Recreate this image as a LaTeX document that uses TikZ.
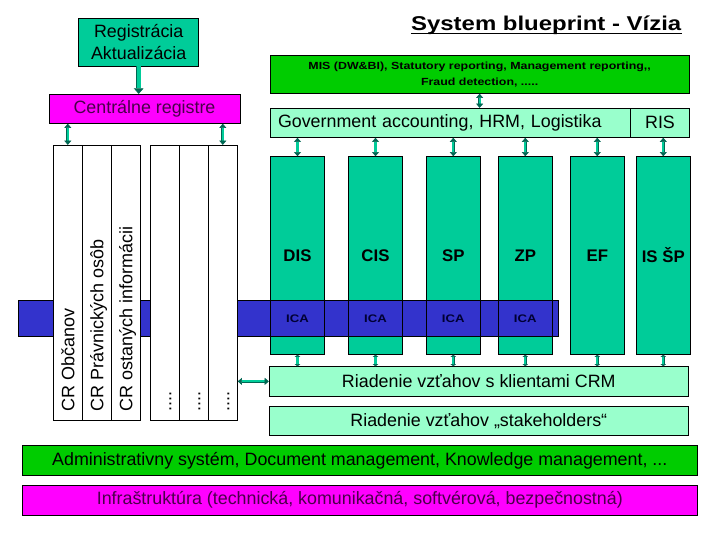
\documentclass[tikz,border=0pt]{standalone}
\usepackage{fontspec}
\setmainfont{Liberation Sans}
\newfontfamily\widefont[FakeStretch=1.2]{Liberation Sans}
\usetikzlibrary{arrows.meta, positioning}

\definecolor{tealfill}{HTML}{00CC99}
\definecolor{mintfill}{HTML}{99FFCC}
\definecolor{limefill}{HTML}{00CC00}
\definecolor{magfill}{HTML}{FF00FF}
\definecolor{bandblue}{HTML}{3333CC}
\definecolor{linkdark}{HTML}{006652}
\definecolor{purpletext}{HTML}{4A004A}
\definecolor{icatext}{HTML}{000033}

\tikzset{
	box/.style={shape=rectangle, draw=black, line width=0.6pt, inner sep=0pt, align=center,
		font=\fontsize{12.7}{15.4}\selectfont},
	tealbox/.style={box, fill=tealfill},
	mintbox/.style={box, fill=mintfill},
	limebox/.style={box, fill=limefill},
	magbox/.style={box, fill=magfill, text=purpletext},
	colbox/.style={tealbox, minimum width=1.35cm, minimum height=4.94cm, font=\fontsize{11.95}{14}\selectfont\bfseries},
	icabox/.style={box, fill=bandblue, text=icatext, minimum width=1.35cm, minimum height=0.895cm,
		font=\fontsize{7.8}{9}\selectfont\widefont\bfseries},
	crbox/.style={box, fill=white, minimum width=0.725cm, minimum height=6.8675cm},
	crtext/.style={rotate=90, anchor=west, inner sep=0pt, text height=9.2pt, text depth=0pt,
		font=\fontsize{12.8}{15}\selectfont},
	link/.style={draw=linkdark, line width=0.4pt, double=tealfill, double distance=1.6pt,
		{Triangle[length=3pt, width=5pt]}-{Triangle[length=3pt, width=5pt]}},
	biglink/.style={link, double distance=2.6pt, -{Triangle[length=4pt, width=7pt]}},
	shortlink/.style={link, {Triangle[length=1.6pt, width=4pt]}-{Triangle[length=1.6pt, width=4pt]}}
}

\begin{document}
\begin{tikzpicture}
	\useasboundingbox (0, 0) rectangle (18, 13.5);
	% Title:
	\node[inner sep=0pt, anchor=base, font=\fontsize{14.2}{16}\selectfont\widefont\bfseries] (title) at (13.655, 12.7325){System blueprint - Vízia};
	\draw[line width=1pt] ([yshift=-0.065cm]title.base west) -- ([yshift=-0.065cm]title.base east);

	% Registers:
	\node[tealbox, minimum width=3cm, minimum height=1.1925cm] (reg) at (3.4675, 12.445){Registrácia\\Aktualizácia};
	\node[magbox, minimum width=4.775cm, minimum height=0.725cm] (central) at (3.6125, 10.78){Centrálne registre};

	% Upper layers:
	\node[limebox, minimum width=10.4825cm, minimum height=0.95cm, font=\fontsize{7.35}{11.4}\selectfont\widefont\bfseries] (mis) at (11.99125, 11.6425){MIS (DW\&BI), Statutory reporting, Management reporting,,\\Fraud detection, .....};
	\node[mintbox, minimum width=9.0175cm, minimum height=0.725cm, text width=8.6175cm, align=left] (gov) at (11.25875, 10.43){Government accounting, HRM, Logistika};
	\node[mintbox, minimum width=1.465cm, minimum height=0.725cm] (ris) at (16.5, 10.43){RIS};

	% Agendas:
	\node[colbox] (dis) at (7.4375, 7.1125){DIS};
	\node[colbox] (cis) at (9.3875, 7.1125){CIS};
	\node[colbox] (sp) at (11.3325, 7.1125){SP};
	\node[colbox] (zp) at (13.1325, 7.1125){ZP};
	\node[colbox] (ef) at (14.9325, 7.1125){EF};
	\node[colbox] (issp) at (16.5825, 7.1125){IS ŠP};

	% ICA band:
	\node[box, fill=bandblue, minimum width=13.51cm, minimum height=0.895cm] (band) at (7.2125, 5.535){};
	\node[icabox] (icaA) at (7.4375, 5.535){ICA};
	\node[icabox] (icaB) at (9.3875, 5.535){ICA};
	\node[icabox] (icaC) at (11.3325, 5.535){ICA};
	\node[icabox] (icaD) at (13.1325, 5.535){ICA};

	% Register columns:
	\node[crbox] (crA) at (1.695, 6.434){};
	\node[crbox] (crB) at (2.42, 6.434){};
	\node[crbox] (crC) at (3.145, 6.434){};
	\node[crbox] (crD) at (4.12, 6.434){};
	\node[crbox] (crE) at (4.845, 6.434){};
	\node[crbox] (crF) at (5.57, 6.434){};
	\node[crtext] (crAlabel) at ([yshift=0.225cm]crA.south){CR Občanov};
	\node[crtext] (crBlabel) at ([yshift=0.225cm]crB.south){CR Právnických osôb};
	\node[crtext] (crClabel) at ([yshift=0.225cm]crC.south){CR ostaných informácii};
	\node[crtext] (crDlabel) at ([yshift=0.225cm]crD.south){....};
	\node[crtext] (crElabel) at ([yshift=0.225cm]crE.south){....};
	\node[crtext] (crFlabel) at ([yshift=0.225cm]crF.south){....};

	% Lower layers:
	\node[mintbox, minimum width=10.475cm, minimum height=0.7325cm] (crm) at (11.97, 3.966){Riadenie vzťahov s klientami CRM};
	\node[mintbox, minimum width=10.475cm, minimum height=0.715cm] (stake) at (11.97, 2.975){Riadenie vzťahov „stakeholders“};
	\node[limebox, minimum width=16.875cm, minimum height=0.75cm] (admin) at (8.995, 1.9925){Administrativny systém, Document management, Knowledge management, ...};
	\node[magbox, minimum width=16.875cm, minimum height=0.7425cm] (infra) at (8.995, 0.996){Infraštruktúra (technická, komunikačná, softvérová, bezpečnostná)};

	% Connectors:
	\draw[biglink] (reg.south) -- (reg.south |- central.north);
	\draw[link] (crA.north) -- (crA.north |- central.south);
	\draw[link] (crF.north) -- (crF.north |- central.south);
	\draw[link] (mis.south) -- (mis.south |- gov.north);
	\foreach \col in {dis, cis, sp, zp, ef}{
		\draw[link] (\col.north) -- (\col.north |- gov.south);
		\draw[shortlink] (\col.south) -- (\col.south |- crm.north);
	}
	\draw[link] (issp.north) -- (issp.north |- ris.south);
	\draw[shortlink] (issp.south) -- (issp.south |- crm.north);
	\draw[link] (crm.west) -- (crm.west -| crF.east);
\end{tikzpicture}
\end{document}
